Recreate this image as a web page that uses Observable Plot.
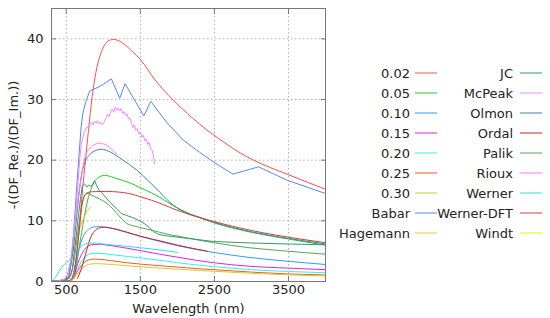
<!DOCTYPE html>
<html><head><meta charset="utf-8">
<script src="https://cdn.jsdelivr.net/npm/d3@7"></script>
<script src="https://cdn.jsdelivr.net/npm/@observablehq/plot@0.6"></script>
<style>
body{margin:0;background:#fff;}
#wrap{position:relative;width:550px;height:318px;font-family:"DejaVu Sans",sans-serif;}
#legend{position:absolute;left:0;top:0;}
</style></head>
<body><div id="wrap"></div>
<script>
const seriesNames = ["0.02","0.05","0.10","0.15","0.20","0.25","0.30","Babar","Hagemann","JC","McPeak","Olmon","Ordal","Palik","Rioux","Werner","Werner-DFT","Windt"];
const seriesColors = ["#ff4d4d","#22cc22","#3399ff","#dd22dd","#33eeee","#ff5522","#cccc33","#5588ee","#ffbb33","#339966","#ee88ff","#3388aa","#cc2222","#55a555","#ff77ff","#33dddd","#dd3a3a","#eeee00"];
const xTicks = [500,1500,2500,3500];
const yTicks = [0,10,20,30,40];

const s002 = [[300,0],[500,0.02],[560,0.1],[590,0.5],[620,2.5],[660,7],[700,12.5],[750,19],[800,25],[850,30.5],[900,34.5],[950,37],[1000,38.6],[1060,39.6],[1140,39.9],[1250,39.4],[1400,37.8],[1500,36.6],[1700,33.2],[1944,29.9],[2200,27.0],[2396,25.0],[2553,23.6],[2847,21.2],[3028,20.0],[3480,17.7],[4000,15.2]];
const s005 = [[300,0],[500,0.02],[560,0.1],[600,0.6],[630,2.0],[656,4.2],[690,6.8],[724,9.4],[760,11.8],[792,13.6],[830,15.1],[860,16.1],[920,17.0],[1018,17.5],[1100,17.3],[1199,16.9],[1350,16.3],[1492,15.5],[1650,14.6],[1800,13.6],[1944,12.5],[2200,11.0],[2486,9.7],[3000,8.1],[3500,7.0],[4000,6.0]];
const s010 = [[300,0],[520,0.05],[570,0.3],[610,1.5],[650,4.2],[700,6.5],[750,7.9],[800,8.6],[860,8.95],[930,9.05],[1000,9.0],[1100,8.8],[1312,8.1],[1538,7.3],[1763,6.6],[2000,5.9],[2486,4.8],[2983,3.95],[3435,3.4],[4000,2.8]];
const s015 = [[300,0],[520,0.05],[570,0.25],[610,1.2],[650,2.8],[700,4.3],[750,5.3],[800,5.85],[860,6.1],[940,6.15],[1050,6.0],[1312,5.5],[1763,4.5],[2000,4.0],[2486,3.1],[2983,2.5],[3500,2.2],[4000,1.95]];
const s020 = [[300,0],[520,0.05],[570,0.2],[610,0.9],[650,2.0],[700,3.2],[750,4.0],[800,4.45],[870,4.65],[940,4.65],[1100,4.45],[1312,4.15],[1763,3.5],[2000,3.1],[2486,2.45],[3000,1.95],[3500,1.65],[4000,1.45]];
const s025 = [[300,0],[520,0.05],[570,0.2],[610,0.8],[650,1.7],[700,2.6],[750,3.2],[800,3.55],[880,3.7],[950,3.65],[1100,3.45],[1312,3.1],[1763,2.6],[2486,1.95],[3000,1.55],[3500,1.25],[4000,1.08]];
const s030 = [[300,0],[520,0.05],[570,0.15],[610,0.6],[650,1.3],[700,2.0],[750,2.5],[800,2.8],[900,2.95],[1000,2.9],[1312,2.6],[1763,2.2],[2486,1.7],[3000,1.35],[3500,1.1],[4000,0.92]];
const sBabar = [[300,0.05],[450,0.1],[500,0.2],[540,1],[580,5],[610,10],[640,15.5],[670,20.5],[700,25.5],[724,27.7],[760,29.5],[815,31.4],[927,32.0],[1000,32.5],[1109,33.4],[1221,30.2],[1293,32.6],[1547,27.3],[1641,29.7],[1850,26.3],[2079,23.3],[2300,21.3],[2486,19.7],[2749,17.7],[3096,18.9],[3480,16.7],[4000,14.5]];
const sHagemann = [[300,0.05],[450,0.3],[520,1.2],[560,3],[600,5.5],[650,7.8],[700,9.4],[747,10.8],[824,12.3]];
const sJC = [[300,0.05],[450,0.2],[540,0.5],[580,2],[620,6],[660,10.5],[690,13.5],[716,15.8],[747,16.1],[780,15.6],[800,15.9],[830,15.7],[860,16.0],[883,16.6],[910,15.8],[940,15.1],[973,14.7],[1086,13.1],[1177,12.0],[1244,11.2],[1312,10.9],[1402,10.5],[1492,10.0],[1560,9.5],[1620,8.9],[1680,8.2],[1740,7.8],[1808,7.6],[2079,7.2],[2486,6.6],[2983,6.35],[3435,6.2],[4000,6.05]];
const sMcPeak = [[300,0],[400,0.1],[500,0.5],[560,3.5],[610,9],[650,15],[680,20],[700,22.4],[720,23.6],[740,24.6],[760,25.0],[780,25.5],[800,25.3],[820,25.9],[840,26.2],[860,25.8],[880,26.4],[900,26.1],[920,26.5],[940,26.0],[960,26.3],[980,25.9],[1000,26.0],[1020,26.6],[1040,27.0],[1060,27.6],[1080,27.2],[1100,28.0],[1120,28.4],[1140,27.9],[1160,28.7],[1180,28.2],[1200,28.6],[1220,28.1],[1240,28.5],[1260,27.7],[1280,28.0],[1300,27.4],[1320,27.6],[1340,26.8],[1360,27.0],[1380,26.1],[1400,25.4],[1420,25.8],[1440,24.9],[1460,25.2],[1480,24.3],[1500,24.6],[1520,23.8],[1540,24.1],[1560,23.2],[1580,23.5],[1600,22.6],[1620,22.9],[1640,21.8],[1660,21.6],[1680,20.5],[1690,19.4]];
const sOlmon = [[300,0.05],[450,0.2],[520,0.6],[560,2.5],[600,6],[650,12],[700,17.2],[750,19.6],[815,20.9],[900,21.6],[973,21.8],[1100,21.3],[1266,20.0],[1447,18.4],[1600,16.7],[1763,14.7],[1944,12.6],[2100,11.4],[2300,10.6],[2486,9.8],[3000,8.2],[3500,7.1],[4000,6.2]];
const sOrdal = [[650,0.5],[700,2],[760,4.5],[820,7],[880,8.3],[950,8.85],[1000,8.95],[1086,8.85],[1312,8.15],[1538,7.35],[1763,6.7],[2000,6.0],[2400,5.0]];
const sPalik = [[300,0.05],[450,0.2],[540,0.6],[590,2.5],[640,6.5],[690,11],[720,13.2],[747,14.2],[790,14.5],[815,14.4],[880,14.0],[950,13.6],[1086,12.5],[1177,11.3],[1244,10.4],[1312,9.6],[1400,9.2],[1492,8.9],[1673,8.4],[1763,8.1],[2079,7.3],[2486,6.4],[2983,5.55],[3435,5.05],[4000,4.5]];
const sRioux = [[300,0.05],[450,0.15],[520,0.7],[560,3],[600,7.5],[650,13],[700,17],[724,18.9],[770,21.1],[850,22.3],[950,22.8],[1050,22.4],[1120,21.7],[1185,21.0]];
const sWerner = [[300,0.05],[330,0.3],[380,1.2],[430,2.2],[480,2.9],[530,3.4],[580,4.0],[630,4.8],[680,5.5],[730,6.0],[790,6.3],[870,6.35],[950,6.25],[1100,6.05],[1312,5.8],[1628,5.4],[2000,4.8]];
const sWernerDFT = [[300,0],[500,0.05],[560,0.3],[600,1.5],[640,4.5],[680,9],[710,12.5],[740,14.0],[780,14.6],[850,14.8],[1041,14.85],[1200,14.75],[1350,14.5],[1492,14.0],[1650,13.4],[1763,12.9],[1944,12.0],[2200,10.9],[2486,9.9],[3000,8.4],[3500,7.3],[4000,6.4]];
const sWindt = [[300,0.05],[350,0.1],[400,0.15],[450,0.25],[500,0.4]];

const seriesPoints = [s002,s005,s010,s015,s020,s025,s030,sBabar,sHagemann,sJC,sMcPeak,sOlmon,sOrdal,sPalik,sRioux,sWerner,sWernerDFT,sWindt];
const jagged = new Set(["Babar","JC","McPeak"]);
const rows = seriesNames.flatMap((n,i)=>seriesPoints[i].map(([w,v])=>({series:n,w,v})));
const smoothRows = rows.filter(d=>!jagged.has(d.series));
const jaggedRows = rows.filter(d=>jagged.has(d.series));

const plot = Plot.plot({
  width:550, height:318,
  marginLeft:51, marginRight:225, marginTop:8, marginBottom:37,
  style:{fontFamily:"'DejaVu Sans', sans-serif", fontSize:"13px", background:"white", color:"#222"},
  x:{domain:[300,4000]},
  y:{domain:[0,45]},
  color:{domain:seriesNames, range:seriesColors},
  marks:[
    Plot.gridX(xTicks,{stroke:"#b0b0b0", strokeOpacity:1, strokeDasharray:"1.5,2.5"}),
    Plot.gridY(yTicks,{stroke:"#b0b0b0", strokeOpacity:1, strokeDasharray:"1.5,2.5"}),
    Plot.line(smoothRows,{x:"w", y:"v", z:"series", stroke:"series", strokeWidth:1, curve:"monotone-x", clip:true}),
    Plot.line(jaggedRows,{x:"w", y:"v", z:"series", stroke:"series", strokeWidth:1, curve:"linear", clip:true}),
    Plot.frame({stroke:"#777"}),
    Plot.axisX(xTicks,{tickSize:0, tickPadding:3, tickFormat:d=>String(d), label:"Wavelength (nm)", labelAnchor:"center", labelOffset:31, labelArrow:"none", fontSize:13}),
    Plot.axisY(yTicks,{tickSize:0, tickPadding:8, tickFormat:d=>String(d), label:"-((DF_Re.)/(DF_Im.))", labelAnchor:"center", labelOffset:43, labelArrow:"none", fontSize:13}),
    Plot.axisX(xTicks,{anchor:"bottom", tickSize:-5, text:null, label:null, stroke:"#777"}),
    Plot.axisX(xTicks,{anchor:"top", tickSize:-5, text:null, label:null, stroke:"#777"}),
    Plot.axisY(yTicks,{anchor:"left", tickSize:-5, text:null, label:null, stroke:"#777"}),
    Plot.axisY(yTicks,{anchor:"right", tickSize:-5, text:null, label:null, stroke:"#777"})
  ]
});
const wrap = document.getElementById("wrap");
wrap.appendChild(plot);

// legend
const svg = d3.select(wrap).append("svg").attr("id","legend").attr("width",550).attr("height",318)
  .style("font-family","'DejaVu Sans', sans-serif").style("font-size","13px");
seriesNames.forEach((n,i)=>{
  const col = i < 9 ? 0 : 1;
  const row = i % 9;
  const textRight = col === 0 ? 410 : 513;
  const sx = col === 0 ? 415 : 520;
  const y = 73 + row*20;
  svg.append("text").attr("x",textRight).attr("y",y).attr("text-anchor","end").attr("dominant-baseline","central").attr("fill","#222").text(n);
  svg.append("line").attr("x1",sx).attr("x2",sx+22).attr("y1",y).attr("y2",y).attr("stroke",seriesColors[i]).attr("stroke-width",1);
});
</script></body></html>
